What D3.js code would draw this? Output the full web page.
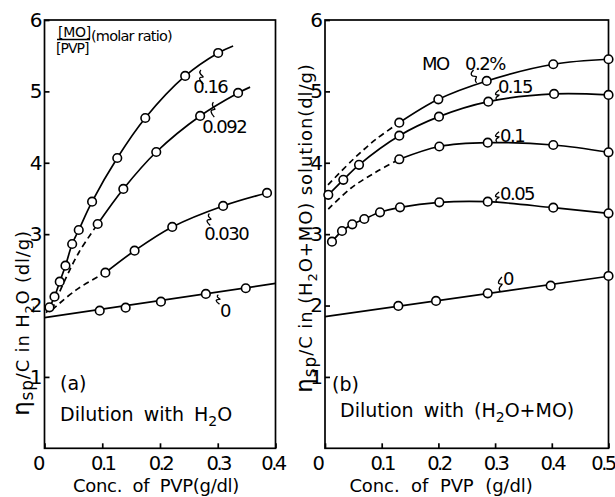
<!DOCTYPE html>
<html><head><meta charset="utf-8">
<script src="https://cdn.jsdelivr.net/npm/d3@7"></script>
<style>
body{margin:0;background:#fff}
svg{display:block}
text{font-family:"DejaVu Sans",sans-serif;fill:#000}
</style>
</head><body>
<svg id="c" width="615" height="497"></svg>
<script>
// ---------- data ----------
const yTicks = [1,2,3,4,5,6];
const yTickLabels = ["1","2","3","4","5","6"];
const xTicksA = [0,0.1,0.2,0.3,0.4];
const xTickLabelsA = ["0","0.1","0.2","0.3","0.4"];
const xTicksB = [0,0.1,0.2,0.3,0.4,0.5];
const xTickLabelsB = ["0","0.1","0.2","0.3","0.4","0.5"];

// panel (a): dilution with H2O, series by [MO]/[PVP]
const a016 = [[0.0086,1.975],[0.0173,2.124],[0.0264,2.334],[0.0363,2.558],[0.0479,2.862],[0.0593,3.058],[0.0824,3.455],[0.126,4.067],[0.1745,4.627],[0.2436,5.216],[0.3007,5.538]];
const a016Start = [[0.003,1.90]];
const a016End = [[0.3266,5.636]];
const a092 = [[0.0921,3.142],[0.1365,3.633],[0.1935,4.151],[0.2695,4.656],[0.3352,4.978]];
const a092End = [[0.356,5.06]];
const a092Dash = [[0.013,1.94],[0.035,2.35],[0.06,2.75],[0.0921,3.142]];
const a030 = [[0.1054,2.46],[0.156,2.768],[0.2212,3.101],[0.3093,3.395],[0.3853,3.577]];
const a030Dash = [[0.0133,1.94],[0.055,2.22],[0.1054,2.46]];
const a0 = [[0.0956,1.928],[0.1405,1.97],[0.2016,2.054],[0.2794,2.162],[0.3485,2.242]];
const a0Line = [[0,1.83],[0.4,2.31]];

// panel (b): dilution with (H2O+MO), series by MO %
const b02 = [[0.131,4.561],[0.1999,4.889],[0.2852,5.146],[0.4026,5.38],[0.5,5.45]];
const b02Dash = [[0.0053,3.69],[0.05,4.05],[0.09,4.33],[0.131,4.561]];
const b015 = [[0.0058,3.551],[0.0323,3.761],[0.06,3.971],[0.131,4.379],[0.201,4.646],[0.288,4.856],[0.404,4.964],[0.5,4.95]];
const b01 = [[0.131,4.049],[0.2016,4.228],[0.287,4.281],[0.4026,4.249],[0.5,4.147]];
const b01Dash = [[0.0058,3.35],[0.045,3.64],[0.09,3.87],[0.131,4.049]];
const b005 = [[0.0123,2.894],[0.03,3.044],[0.0481,3.138],[0.0693,3.212],[0.097,3.306],[0.1323,3.376],[0.2016,3.446],[0.287,3.455],[0.4026,3.371],[0.5,3.292]];
const b0 = [[0.1293,1.994],[0.1958,2.064],[0.287,2.171],[0.398,2.278],[0.5,2.414]];
const b0Line = [[0,1.844],[0.5,2.41]];

// ---------- drawing ----------
const svg = d3.select("#c");
const y = d3.scaleLinear().domain([0,6]).range([448.3,20]);
const xA = d3.scaleLinear().domain([0,0.4]).range([44.5,275.5]);
const xB = d3.scaleLinear().domain([0,0.5]).range([325,608.5]);
const SW = 1.7;

function panel(x, xTicks, xLabels, nudges){
  const g = svg.append("g");
  g.append("rect").attr("x",x.range()[0]).attr("y",y(6))
    .attr("width",x.range()[1]-x.range()[0]).attr("height",y(0)-y(6))
    .attr("fill","none").attr("stroke","#000").attr("stroke-width",SW);
  const ax = g.append("g").attr("transform",`translate(0,${y(0)})`)
    .call(d3.axisBottom(x).tickValues(xTicks).tickFormat((d,i)=>xLabels[i]).tickSize(-5).tickPadding(8));
  ax.select(".domain").remove();
  ax.selectAll("line").attr("stroke-width",SW);
  ax.selectAll("text").style("font-size","19.5px").style("letter-spacing","-2.5px")
    .attr("dx",(d,i)=>nudges[i]||0);
  const ay = g.append("g").attr("transform",`translate(${x.range()[0]},0)`)
    .call(d3.axisLeft(y).tickValues(yTicks).tickFormat((d,i)=>yTickLabels[i]).tickSize(-5).tickPadding(2));
  ay.select(".domain").remove();
  ay.selectAll("line").attr("stroke-width",SW);
  ay.selectAll("text").style("font-size","20px");
  return g;
}

const gA = panel(xA, xTicksA, xTickLabelsA, [-7,0,0,0,-3]);
const gB = panel(xB, xTicksB, xTickLabelsB, [-8,0,0,0,0,-6]);

function curveLine(g, x, pts, dashed){
  const line = d3.line().x(d=>x(d[0])).y(d=>y(d[1])).curve(d3.curveCatmullRom.alpha(0.5));
  g.append("path").attr("d",line(pts)).attr("fill","none").attr("stroke","#000")
    .attr("stroke-width",SW).attr("stroke-dasharray",dashed?"6,4":null);
}
function straight(g, x, pts){
  const line = d3.line().x(d=>x(d[0])).y(d=>y(d[1]));
  g.append("path").attr("d",line(pts)).attr("fill","none").attr("stroke","#000").attr("stroke-width",SW);
}
function dots(g, x, pts){
  g.selectAll(null).data(pts).enter().append("circle")
    .attr("cx",d=>x(d[0])).attr("cy",d=>y(d[1])).attr("r",4.3)
    .attr("fill","#fff").attr("stroke","#000").attr("stroke-width",1.6);
}
function label(g, x, cx, cy, txt, size){
  g.append("text").attr("x",x(cx)).attr("y",y(cy)).style("font-size",(size||17)+"px")
    .style("letter-spacing","-1.5px").text(txt);
}
function curl(g, x, c1, v1, c2, v2){
  const x1=x(c1), y1=y(v1), x2=x(c2), y2=y(v2);
  const mx=(x1+x2)/2, my=(y1+y2)/2;
  g.append("path")
    .attr("d",`M${x1},${y1} C${x1-4},${y1+(my-y1)*0.6} ${mx+4},${my} ${mx},${my} S${x2-4},${y2-(y2-my)*0.6} ${x2},${y2}`)
    .attr("fill","none").attr("stroke","#000").attr("stroke-width",1.3);
}

// panel (a) curves
curveLine(gA, xA, a016Start.concat(a016, a016End));
curveLine(gA, xA, a092.concat(a092End));
curveLine(gA, xA, a092Dash, true);
curveLine(gA, xA, a030);
curveLine(gA, xA, a030Dash, true);
straight(gA, xA, a0Line);
[a016,a092,a030,a0].forEach(s=>dots(gA,xA,s));

// panel (b) curves
curveLine(gB, xB, b02);
curveLine(gB, xB, b02Dash, true);
curveLine(gB, xB, b015);
curveLine(gB, xB, b01);
curveLine(gB, xB, b01Dash, true);
curveLine(gB, xB, b005);
straight(gB, xB, b0Line);
[b02,b015,b01,b005,b0].forEach(s=>dots(gB,xB,s));

// series labels (a)
label(gA, xA, 0.2575, 4.978, "0.16", 18);
curl(gA, xA, 0.2708, 5.30, 0.275, 5.10);
label(gA, xA, 0.273, 4.417, "0.092", 18);
curl(gA, xA, 0.2925, 4.85, 0.294, 4.64);
label(gA, xA, 0.2765, 2.918, "0.030", 18);
curl(gA, xA, 0.2856, 3.29, 0.287, 3.12);
label(gA, xA, 0.304, 1.84, "0", 18);
curl(gA, xA, 0.301, 2.15, 0.303, 2.02);

// series labels (b)
label(gB, xB, 0.171, 5.30, "MO", 18);
label(gB, xB, 0.247, 5.30, "0.2%", 18);
curl(gB, xB, 0.2675, 5.12, 0.262, 5.30);
label(gB, xB, 0.305, 4.978, "0.15", 18);
curl(gB, xB, 0.3033, 4.88, 0.307, 5.02);
label(gB, xB, 0.3086, 4.29, "0.1", 18);
curl(gB, xB, 0.3033, 4.295, 0.307, 4.435);
label(gB, xB, 0.3086, 3.478, "0.05", 18);
curl(gB, xB, 0.3033, 3.45, 0.307, 3.59);
label(gB, xB, 0.314, 2.29, "0", 18);
curl(gB, xB, 0.309, 2.20, 0.312, 2.40);

// legend header (a)
const lg = gA.append("g");
lg.append("text").attr("x",58).attr("y",36.5).style("font-size","14px").style("letter-spacing","-0.3px").text("[MO]");
lg.append("line").attr("x1",57).attr("x2",90).attr("y1",39.5).attr("y2",39.5).attr("stroke","#000").attr("stroke-width",1.5);
lg.append("text").attr("x",56).attr("y",53).style("font-size","14px").style("letter-spacing","-1px").text("[PVP]");
lg.append("text").attr("x",91).attr("y",41).style("font-size","14.5px").style("letter-spacing","-0.8px").text("(molar ratio)");

// panel captions
function sub(t, main, s, rest){
  t.append("tspan").text(main);
  t.append("tspan").attr("dy",5).style("font-size","14px").text(s);
  t.append("tspan").attr("dy",-5).text(rest);
}
gA.append("text").attr("x",60).attr("y",390).style("font-size","19px").text("(a)");
sub(gA.append("text").attr("x",60).attr("y",421).style("font-size","19px").style("word-spacing","4px"),
  "Dilution with H","2","O");
gB.append("text").attr("x",332).attr("y",391).style("font-size","19px").text("(b)");
sub(gB.append("text").attr("x",340).attr("y",417).style("font-size","19px").style("word-spacing","4px"),
  "Dilution with (H","2","O+MO)");

// x titles
svg.append("text").attr("x",156).attr("y",491.5).attr("text-anchor","middle").style("font-size","18px")
  .style("letter-spacing","-0.3px").style("word-spacing","5px").text("Conc. of PVP(g/dl)");
svg.append("text").attr("x",441).attr("y",491.5).attr("text-anchor","middle").style("font-size","18px")
  .style("letter-spacing","-0.1px").style("word-spacing","6px").text("Conc. of PVP (g/dl)");

// y titles
function ytitle(xp, yp, parts, ls){
  const t = svg.append("text").attr("transform",`translate(${xp},${yp}) rotate(-90)`)
    .attr("text-anchor","middle").style("font-size","18px").style("letter-spacing",ls);
  t.append("tspan").style("font-size","23px").text("η");
  t.append("tspan").attr("dy",4).style("font-size","17px").text("sp");
  t.append("tspan").attr("dy",-4).text(parts[0]);
  t.append("tspan").attr("dy",5).style("font-size","13px").text("2");
  t.append("tspan").attr("dy",-5).text(parts[1]);
}
ytitle(29, 323, ["/C in H","O (dl/g)"], "0.8px");
ytitle(312, 228, ["/C in (H","O+MO) solution(dl/g)"], "0.9px");
</script>
</body></html>
